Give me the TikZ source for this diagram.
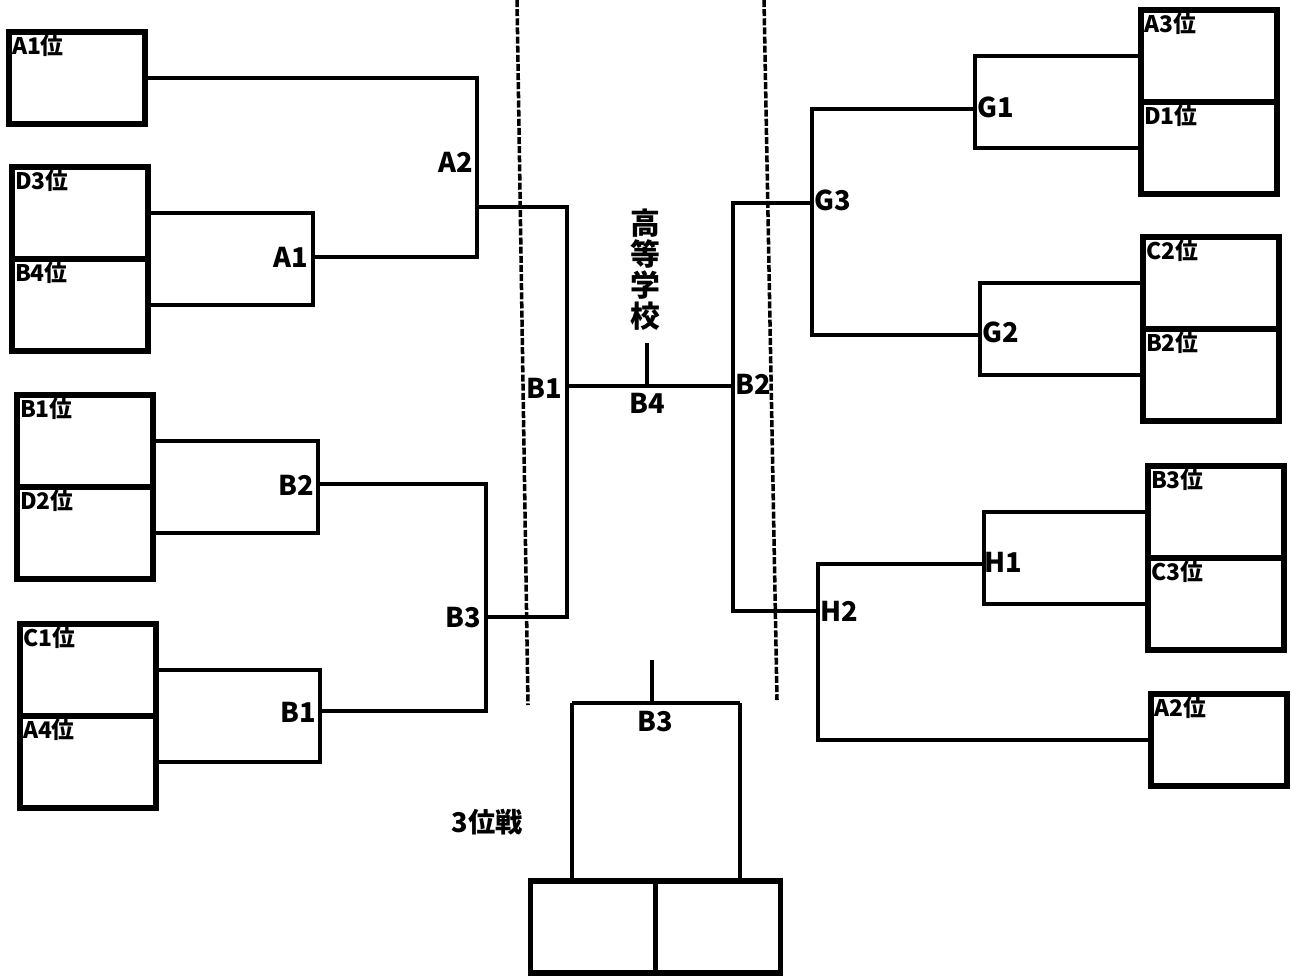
\documentclass[tikz,border=0pt]{standalone}
\usepackage{fontspec}
\setmainfont{Noto Sans CJK JP}
\usetikzlibrary{calc,positioning}

\begin{document}
\begin{tikzpicture}[x=0.02cm,y=-0.02cm,
    seat/.style={draw,line width=3pt,minimum width=2.72cm,minimum height=1.84cm,inner sep=0pt},
    lbl/.style={anchor=north west,inner sep=0.5pt,xshift=2.5pt,yshift=-2.5pt,font=\bfseries\fontsize{13}{13}\selectfont},
    rnd/.style={inner sep=1pt,font=\bfseries\fontsize{15.5}{15.5}\selectfont},
    bline/.style={line width=2pt},
    sep/.style={line width=2pt,dash pattern=on 4pt off 1.2pt}]
    \useasboundingbox (0,0) rectangle (1291,977);
    % seats
    \foreach \n/\x/\y/\t in {a1p/77/78/A1位, d3p/80/213/D3位, b4p/80/305/B4位,
        b1p/85/441/B1位, d2p/85/533/D2位, c1p/88/670/C1位, a4p/88/762/A4位,
        a3p/1209/56/A3位, d1p/1209/148/D1位, c2p/1211/283/C2位, b2p/1211/375/B2位,
        b3p/1216/512/B3位, c3p/1216/604/C3位, a2p/1219/740/A2位}
        \node[seat,label={[lbl]north west:\t}] (\n) at (\x,\y) {};
    \node[seat,minimum width=2.5cm] (thl) at (593,927) {};
    \node[seat,minimum width=2.5cm] (thr) at (718,927) {};
    % dividing lines
    \draw[sep] (517,0) -- (528,705);
    \draw[sep] (764,0) -- (777,700);
    % junctions
    \coordinate (jA1) at (313,257);
    \coordinate (jA2) at (477,207);
    \coordinate (jB2l) at (318,484);
    \coordinate (jB1l) at (320,711);
    \coordinate (jB3) at (486,617);
    \coordinate (jB1c) at (567,386);
    \coordinate (jB4) at (647,386);
    \coordinate (jB2r) at (733,386);
    \coordinate (jG1) at (975,109);
    \coordinate (jG2) at (980,335);
    \coordinate (jG3) at (812,203);
    \coordinate (jH1) at (984,564);
    \coordinate (jH2) at (818,611);
    \coordinate (stem) at (647,343);
    \coordinate (jF) at (652,703);
    \coordinate (stemF) at (652,660);
    \coordinate (fL) at (572,703);
    \coordinate (fR) at (740,703);
    % round labels
    \node[rnd] (A1) at (291,257) {A1};
    \node[rnd] (A2) at (456,162) {A2};
    \node[rnd] (B2l) at (296,485) {B2};
    \node[rnd] (B1l) at (298,712) {B1};
    \node[rnd] (B3l) at (463,618) {B3};
    \node[rnd] (B1c) at (544,388) {B1};
    \node[rnd] (B4) at (647,403) {B4};
    \node[rnd] (B2r) at (753,384) {B2};
    \node[rnd] (G1) at (996,107) {G1};
    \node[rnd] (G2) at (1001,332) {G2};
    \node[rnd] (G3) at (833,200) {G3};
    \node[rnd] (H1) at (1003,562) {H1};
    \node[rnd] (H2) at (839,611) {H2};
    \node[rnd] (B3f) at (655,722) {B3};
    \node[rnd] (third) at (487,822) {3位戦};
    \node[rnd,align=center,font=\bfseries\fontsize{17}{17.6}\selectfont] (school) at (645,270) {高\\等\\学\\校};
    % left half
    \draw[bline] (d3p.east) -| (jA1);
    \draw[bline] (b4p.east) -| (jA1);
    \draw[bline] (a1p.east) -| (jA2);
    \draw[bline] (jA1) -| (jA2);
    \draw[bline] (b1p.east) -| (jB2l);
    \draw[bline] (d2p.east) -| (jB2l);
    \draw[bline] (c1p.east) -| (jB1l);
    \draw[bline] (a4p.east) -| (jB1l);
    \draw[bline] (jB2l) -| (jB3);
    \draw[bline] (jB1l) -| (jB3);
    \draw[bline] (jA2) -| (jB1c);
    \draw[bline] (jB3) -| (jB1c);
    % right half
    \draw[bline] (a3p.west) -| (jG1);
    \draw[bline] (d1p.west) -| (jG1);
    \draw[bline] (c2p.west) -| (jG2);
    \draw[bline] (b2p.west) -| (jG2);
    \draw[bline] (jG1) -| (jG3);
    \draw[bline] (jG2) -| (jG3);
    \draw[bline] (b3p.west) -| (jH1);
    \draw[bline] (c3p.west) -| (jH1);
    \draw[bline] (jH1) -| (jH2);
    \draw[bline] (a2p.west) -| (jH2);
    \draw[bline] (jG3) -| (jB2r);
    \draw[bline] (jH2) -| (jB2r);
    % final
    \draw[bline] (jB1c) -- (jB2r);
    \draw[bline] (jB4) -- (stem);
    % third place
    \draw[bline] (stemF) -- (jF);
    \draw[bline] (fL) -- (fR);
    \draw[bline] (fL) -- (fL |- thl.north);
    \draw[bline] (fR) -- (fR |- thr.north);
\end{tikzpicture}
\end{document}
